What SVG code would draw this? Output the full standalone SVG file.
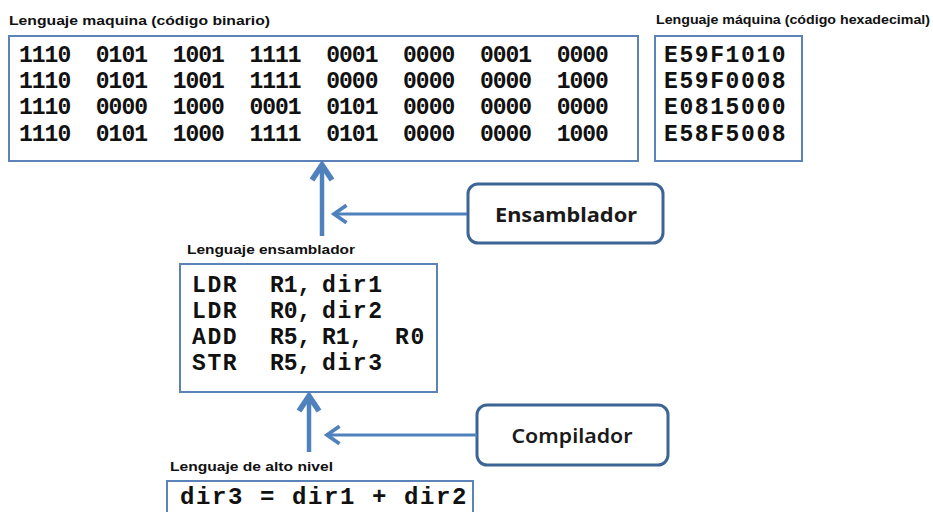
<svg xmlns="http://www.w3.org/2000/svg" width="933" height="512" viewBox="0 0 933 512">
  <style>
    .box { fill: #ffffff; stroke: #5b83b8; stroke-width: 2; }
    .tool { fill: #ffffff; stroke: #3c6494; stroke-width: 3; }
    .title { font-family: "Liberation Sans", Arial, sans-serif; font-weight: bold; font-size: 12px; fill: #111; }
    .code { font-family: "Liberation Mono", "Courier New", monospace; font-weight: bold; font-size: 23px; fill: #111; white-space: pre; }
    .bin { letter-spacing: -1px; }
    .wide { letter-spacing: 1.6px; }
    .reg { letter-spacing: 0; }
    .hl { font-size: 24px; letter-spacing: 1.6px; }
    .tooltext { font-family: "Noto Sans", "Open Sans", sans-serif; font-weight: bold; font-size: 19px; fill: #1a1a1a; text-anchor: middle; }
    .arrow { stroke: #4f81bd; fill: none; }
  </style>
  <defs>
    <marker id="headThick" markerUnits="userSpaceOnUse" markerWidth="30" markerHeight="30" refX="0" refY="0" viewBox="-16 -12 20 24" orient="auto">
      <path d="M -12 -8 L 0 0 L -12 8" fill="none" stroke="#4f81bd" stroke-width="4.5" stroke-linejoin="miter"/>
    </marker>
    <marker id="headThin" markerUnits="userSpaceOnUse" markerWidth="30" markerHeight="30" refX="0" refY="0" viewBox="-16 -12 20 24" orient="auto">
      <path d="M -10 -7 L 0 0 L -10 7" fill="none" stroke="#4f81bd" stroke-width="3" stroke-linejoin="miter"/>
    </marker>
  </defs>

  <rect width="933" height="512" fill="#ffffff"/>

  <!-- machine code, binary -->
  <g id="binario">
    <text class="title" x="9" y="25" textLength="261" lengthAdjust="spacingAndGlyphs">Lenguaje maquina (código binario)</text>
    <rect class="box" x="9" y="36" width="629" height="125"/>
    <text class="code bin" x="19" y="62">1110  0101  1001  1111  0001  0000  0001  0000</text>
    <text class="code bin" x="19" y="88">1110  0101  1001  1111  0000  0000  0000  1000</text>
    <text class="code bin" x="19" y="114">1110  0000  1000  0001  0101  0000  0000  0000</text>
    <text class="code bin" x="19" y="141">1110  0101  1000  1111  0101  0000  0000  1000</text>
  </g>

  <!-- machine code, hexadecimal -->
  <g id="hexadecimal">
    <text class="title" x="656" y="24" textLength="274" lengthAdjust="spacingAndGlyphs">Lenguaje máquina (código hexadecimal)</text>
    <rect class="box" x="655" y="36" width="147" height="125"/>
    <text class="code wide" x="664" y="62">E59F1010</text>
    <text class="code wide" x="664" y="88">E59F0008</text>
    <text class="code wide" x="664" y="114">E0815000</text>
    <text class="code wide" x="664" y="141">E58F5008</text>
  </g>

  <!-- assembly: mnemonic and operand columns -->
  <g id="ensamblador">
    <text class="title" x="187" y="254" textLength="168" lengthAdjust="spacingAndGlyphs">Lenguaje ensamblador</text>
    <rect class="box" x="180" y="264" width="257" height="128"/>
    <text class="code wide" y="292"><tspan x="192">LDR</tspan><tspan class="reg" x="270">R1,</tspan><tspan x="322">dir1</tspan></text>
    <text class="code wide" y="318"><tspan x="192">LDR</tspan><tspan class="reg" x="270">R0,</tspan><tspan x="322">dir2</tspan></text>
    <text class="code wide" y="344"><tspan x="192">ADD</tspan><tspan class="reg" x="270">R5,</tspan><tspan class="reg" x="322">R1,</tspan><tspan x="395">R0</tspan></text>
    <text class="code wide" y="370"><tspan x="192">STR</tspan><tspan class="reg" x="270">R5,</tspan><tspan x="322">dir3</tspan></text>
  </g>

  <!-- high level -->
  <g id="alto-nivel">
    <text class="title" x="170" y="471" textLength="163" lengthAdjust="spacingAndGlyphs">Lenguaje de alto nivel</text>
    <rect class="box" x="167" y="481" width="306" height="40"/>
    <text class="code hl" x="180" y="504">dir3 = dir1 + dir2</text>
  </g>

  <!-- translators -->
  <g id="ensamblador-tool">
    <rect class="tool" x="468" y="184" width="195" height="59" rx="10"/>
    <text class="tooltext" x="566" y="222" textLength="142" lengthAdjust="spacingAndGlyphs">Ensamblador</text>
  </g>
  <g id="compilador-tool">
    <rect class="tool" x="477" y="405" width="191" height="60" rx="10"/>
    <text class="tooltext" x="572" y="443" textLength="121" lengthAdjust="spacingAndGlyphs" style="font-weight:600">Compilador</text>
  </g>

  <!-- connectors -->
  <g id="conectores">
    <line class="arrow" x1="322" y1="236" x2="322" y2="165" stroke-width="4.5" marker-end="url(#headThick)"/>
    <line class="arrow" x1="467" y1="214" x2="334" y2="214" stroke-width="3" marker-end="url(#headThin)"/>
    <line class="arrow" x1="309" y1="452" x2="309" y2="396" stroke-width="4.5" marker-end="url(#headThick)"/>
    <line class="arrow" x1="477" y1="435" x2="327" y2="435" stroke-width="3" marker-end="url(#headThin)"/>
  </g>
</svg>
